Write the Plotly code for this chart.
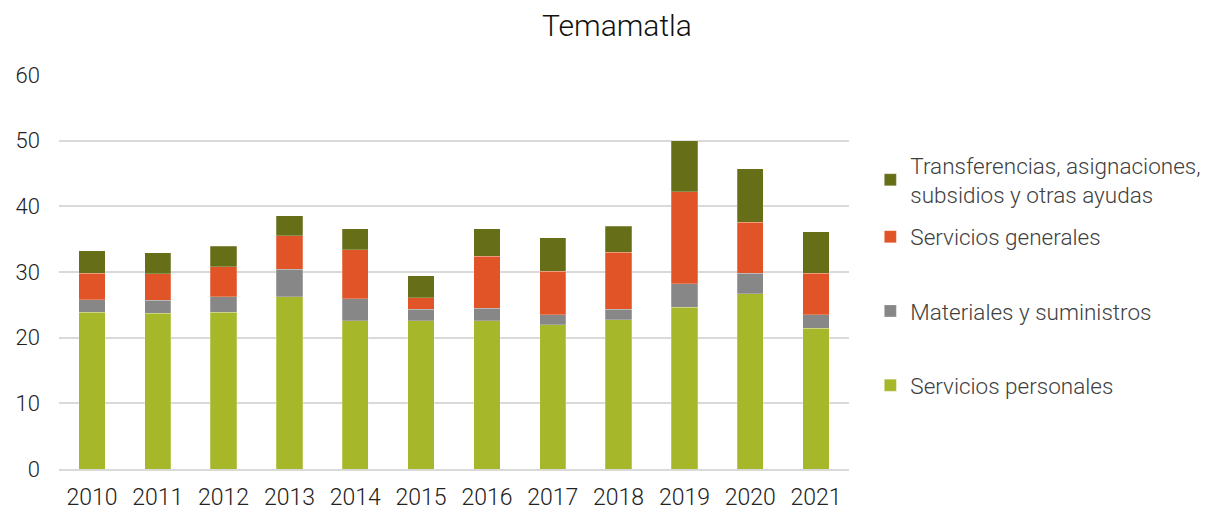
import plotly.graph_objects as go

years = ["2010", "2011", "2012", "2013", "2014", "2015",
         "2016", "2017", "2018", "2019", "2020", "2021"]

servicios_personales = [23.9, 23.7, 23.9, 26.2, 22.6, 22.6, 22.6, 22.0, 22.7, 24.6, 26.7, 21.4]
materiales = [1.9, 2.0, 2.3, 4.2, 3.3, 1.7, 1.9, 1.5, 1.6, 3.6, 3.1, 2.1]
servicios_generales = [4.0, 4.0, 4.6, 5.1, 7.5, 1.8, 7.9, 6.6, 8.7, 14.0, 7.8, 6.3]
transferencias = [3.4, 3.2, 3.1, 3.1, 3.2, 3.3, 4.2, 5.1, 4.0, 7.8, 8.1, 6.3]

# (name, values, colour, which legend, rank in legend)
series = [
    ("Servicios personales", servicios_personales, "#A6B729", "legend", 3),
    ("Materiales y suministros", materiales, "#878787", "legend", 2),
    ("Servicios generales", servicios_generales, "#E05427", "legend", 1),
    ("Transferencias, asignaciones,<br>subsidios y otras ayudas", transferencias, "#676E18", "legend2", 1),
]

fig = go.Figure()
for i, (name, vals, col, leg, rank) in enumerate(series):
    fig.add_trace(go.Bar(
        x=years, y=vals, name=name,
        marker=dict(color=col, line=dict(color="rgba(255,255,255,0.4)", width=0.6)),
        legendgroup="g%d" % i, legend=leg, legendrank=rank,
    ))

# the page body has an 8px margin, so the figure is drawn 8px in from the top-left
legend_font = dict(size=22.5, color="#404040", family="Roboto", weight=300)
fig.update_layout(
    barmode="stack",
    bargap=0.6,
    width=1215, height=503,
    paper_bgcolor="white", plot_bgcolor="white",
    margin=dict(l=51, r=374, t=67, b=42),
    font=dict(family="Roboto", size=21, color="#222222", weight=300),
    title=dict(text="Temamatla", x=609/1215, xref="container", xanchor="center",
               y=1 - 17/503, yref="container", yanchor="middle",
               font=dict(size=30, color="#111111", family="Roboto", weight=300)),
    legend=dict(
        x=1.027, xanchor="left", y=(469 - 311) / 394, yanchor="middle",
        font=legend_font, tracegroupgap=42, itemwidth=30,
    ),
    legend2=dict(
        x=1.027, xanchor="left", y=(469 - 180) / 394, yanchor="middle",
        font=legend_font, itemwidth=30,
    ),
    showlegend=True,
)

fig.update_yaxes(range=[0, 60], dtick=10, showgrid=True, gridcolor="#D9D9D9",
                 gridwidth=1.5, zeroline=False, showline=False, automargin=False,
                 tickfont=dict(size=22, color="#222222"), ticklabelstandoff=18)
fig.update_xaxes(showline=True, linecolor="#D9D9D9", linewidth=1.5, automargin=False,
                 tickfont=dict(size=23, color="#222222"), ticks="", ticklabelstandoff=7)

fig.write_html("out.html")
